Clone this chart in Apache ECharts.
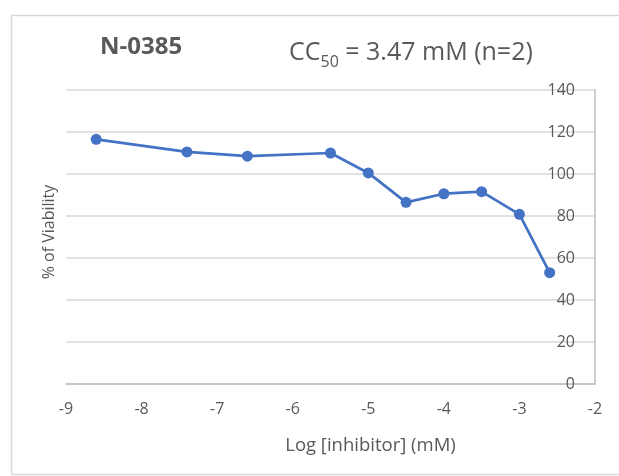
<!DOCTYPE html>
<html>
<head>
<meta charset="utf-8">
<script src="https://cdn.jsdelivr.net/npm/echarts@6/dist/echarts.min.js"></script>
<style>html,body{margin:0;padding:0;background:#fff;}#c{width:619px;height:476px;}</style>
</head>
<body>
<div id="c"></div>
<script>
var logConc = [-8.6, -7.4, -6.6, -5.5, -5.0, -4.5, -4.0, -3.5, -3.0, -2.6];
var viability = [116.5, 110.5, 108.5, 110, 100.5, 86.5, 90.6, 91.6, 80.8, 53];
var xTicks = [-9, -8, -7, -6, -5, -4, -3, -2];
var yTicks = [0, 20, 40, 60, 80, 100, 120, 140];

var FONT = '"Open Sans", "Liberation Sans", sans-serif';
var TXT = '#595959';
var chart = echarts.init(document.getElementById('c'), null, {renderer: 'canvas'});
chart.setOption({
  animation: false,
  backgroundColor: '#fff',
  graphic: [
    {type: 'rect', left: 9, top: 13, shape: {width: 640, height: 459}, style: {fill: 'none', stroke: '#d9d9d9', lineWidth: 1.5}, z: -1},
    {type: 'text', x: 49, y: 232, rotation: Math.PI / 2, style: {text: '% of Viability', font: '16px ' + FONT, fill: TXT, textAlign: 'center', textVerticalAlign: 'middle'}}
  ],
  title: [
    {text: 'N-0385', left: 95, top: 30, textStyle: {fontFamily: FONT, fontSize: 24, fontWeight: 'bold', color: TXT}},
    {text: '{a|CC}{s|50}{a| = 3.47 mM (n=2)}', left: 284, top: 26,
     textStyle: {rich: {
       a: {fontFamily: FONT, fontSize: 25, fontWeight: 'normal', color: TXT, verticalAlign: 'bottom', lineHeight: 34},
       s: {fontFamily: FONT, fontSize: 16, fontWeight: 'normal', color: TXT, verticalAlign: 'bottom', lineHeight: 16, padding: [0, 0, -5, 0]}
     }}}
  ],
  grid: {left: 66, right: 24, top: 90, bottom: 92},
  xAxis: {
    type: 'value', min: xTicks[0], max: xTicks[xTicks.length - 1], interval: 1,
    name: 'Log [inhibitor] (mM)', nameLocation: 'middle', nameGap: 52,
    nameTextStyle: {fontFamily: FONT, fontSize: 18.5, color: TXT, padding: [0, 0, 0, 80]},
    axisLine: {show: true, onZero: false, lineStyle: {color: '#bfbfbf', width: 1.5}},
    axisTick: {show: false},
    splitLine: {show: false},
    axisLabel: {fontFamily: FONT, fontSize: 16, color: TXT, margin: 17}
  },
  yAxis: {
    type: 'value', position: 'right', min: yTicks[0], max: yTicks[yTicks.length - 1], interval: 20,
    axisLine: {show: true, lineStyle: {color: '#bfbfbf', width: 1.5}},
    axisTick: {show: false},
    splitLine: {show: true, lineStyle: {color: '#d9d9d9', width: 1.5}},
    axisLabel: {inside: true, fontFamily: FONT, fontSize: 16, color: TXT, margin: 20}
  },
  series: [{
    type: 'line',
    data: logConc.map(function (x, i) { return [x, viability[i]]; }),
    symbol: 'circle', symbolSize: 11,
    lineStyle: {color: '#4472C4', width: 2.75},
    itemStyle: {color: '#4472C4'}
  }]
});
</script>
</body>
</html>
